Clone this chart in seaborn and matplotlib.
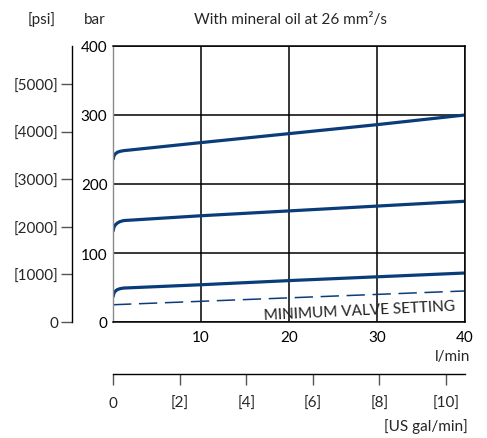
import numpy as np
import pandas as pd
import matplotlib
matplotlib.use("Agg")
import matplotlib.pyplot as plt
import seaborn as sns

# ---- data ----
flow_lpm = [0, 0.1, 0.25, 0.5, 0.8, 1.2, 10, 20, 30, 40]
p_high = [235, 240.5, 243.5, 246, 247.3, 248.3, 260, 273, 286, 300]
p_mid = [131, 137, 140.5, 143.5, 145.5, 147, 154, 161, 168, 175]
p_low = [36, 41.5, 44.5, 47, 48.3, 49.2, 54, 60, 65.5, 71]
flow_min = [0, 40]
p_min = [25, 45]

bar_ticks = [0, 100, 200, 300, 400]
lpm_ticks = [10, 20, 30, 40]
lpm_ticklabels = ["10", "20", "30", "40"]
psi_ticks = [0, 1000, 2000, 3000, 4000, 5000]
psi_ticklabels = ["0", "[1000]", "[2000]", "[3000]", "[4000]", "[5000]"]
gal_ticks = [0, 2, 4, 6, 8, 10]
gal_ticklabels = ["0", "[2]", "[4]", "[6]", "[8]", "[10]"]

BAR_TO_PSI = 14.5038
GAL_TO_L = 3.78541
NAVY = "#0b3c7a"
FS = 11

sns.set_style("white")
plt.rcParams["font.family"] = ["Lato", "DejaVu Sans"]
plt.rcParams["font.size"] = FS

fig = plt.figure(figsize=(4.87, 4.39), dpi=100)
W, H = 487, 439
L, R, T, B = 113, 465, 47, 323
ax = fig.add_axes([L / W, 1 - B / H, (R - L) / W, (B - T) / H])

for ys in (p_high, p_mid, p_low):
    sns.lineplot(x=flow_lpm, y=ys, ax=ax, color=NAVY, linewidth=2.3,
                 estimator=None, sort=False, solid_capstyle="butt",
                 solid_joinstyle="round")
sns.lineplot(x=flow_min, y=p_min, ax=ax, color=NAVY, linewidth=1.1,
             estimator=None, sort=False, dashes=False)
ax.lines[-1].set_dashes([12, 5])

ax.set_xlim(0, 40)
ax.set_ylim(0, 400)
ax.set_yticks(bar_ticks)
ax.set_xticks(lpm_ticks)
ax.set_xticklabels(lpm_ticklabels)
ax.grid(True, color="black", linewidth=1.1)
ax.set_axisbelow(True)
ax.tick_params(axis="both", length=0, labelsize=FS, colors="black")
ax.tick_params(axis="x", pad=6)
ax.tick_params(axis="y", pad=4)
for s in ("top", "right", "bottom"):
    ax.spines[s].set_color("black")
    ax.spines[s].set_linewidth(1.1)
ax.spines["left"].set_color("#8a8a8a")
ax.spines["left"].set_linewidth(1.0)

ax.text(28.0, 16.4, "MINIMUM VALVE SETTING", rotation=2.8, ha="center",
        va="center", fontsize=11, color="#222222", rotation_mode="anchor")

# psi axis
psi = ax.secondary_yaxis(-(113 - 72) / (R - L),
                         functions=(lambda b: b * BAR_TO_PSI, lambda p: p / BAR_TO_PSI))
psi.set_yticks(psi_ticks)
psi.set_yticklabels(psi_ticklabels)
psi.tick_params(axis="y", length=8, width=1.0, pad=2, labelsize=FS,
                color="#555555", direction="out")
psi.spines["left"].set_color("black")
psi.spines["left"].set_linewidth(1.0)
psi.spines["left"].set_bounds(0, 400 * BAR_TO_PSI)

# US gal/min axis
gal = ax.secondary_xaxis(-(375 - B) / (B - T),
                         functions=(lambda l: l / GAL_TO_L, lambda g: g * GAL_TO_L))
gal.set_xticks(gal_ticks)
gal.set_xticklabels(gal_ticklabels)
gal.tick_params(axis="x", length=8, width=1.0, pad=8, labelsize=FS,
                color="#555555", direction="out")
gal.spines["bottom"].set_color("black")
gal.spines["bottom"].set_linewidth(1.0)

fig.text(42 / W, 1 - 20 / H, "[psi]", ha="center", va="center", fontsize=FS)
fig.text(95 / W, 1 - 20 / H, "bar", ha="center", va="center", fontsize=FS)
fig.text(290 / W, 1 - 20 / H, "With mineral oil at 26 mm²/s", ha="center",
         va="center", fontsize=FS)
fig.text(470 / W, 1 - 357 / H, "l/min", ha="right", va="center", fontsize=FS)
fig.text(468 / W, 1 - 427 / H, "[US gal/min]", ha="right", va="center",
         fontsize=FS)

fig.savefig("out.png", dpi=100)
